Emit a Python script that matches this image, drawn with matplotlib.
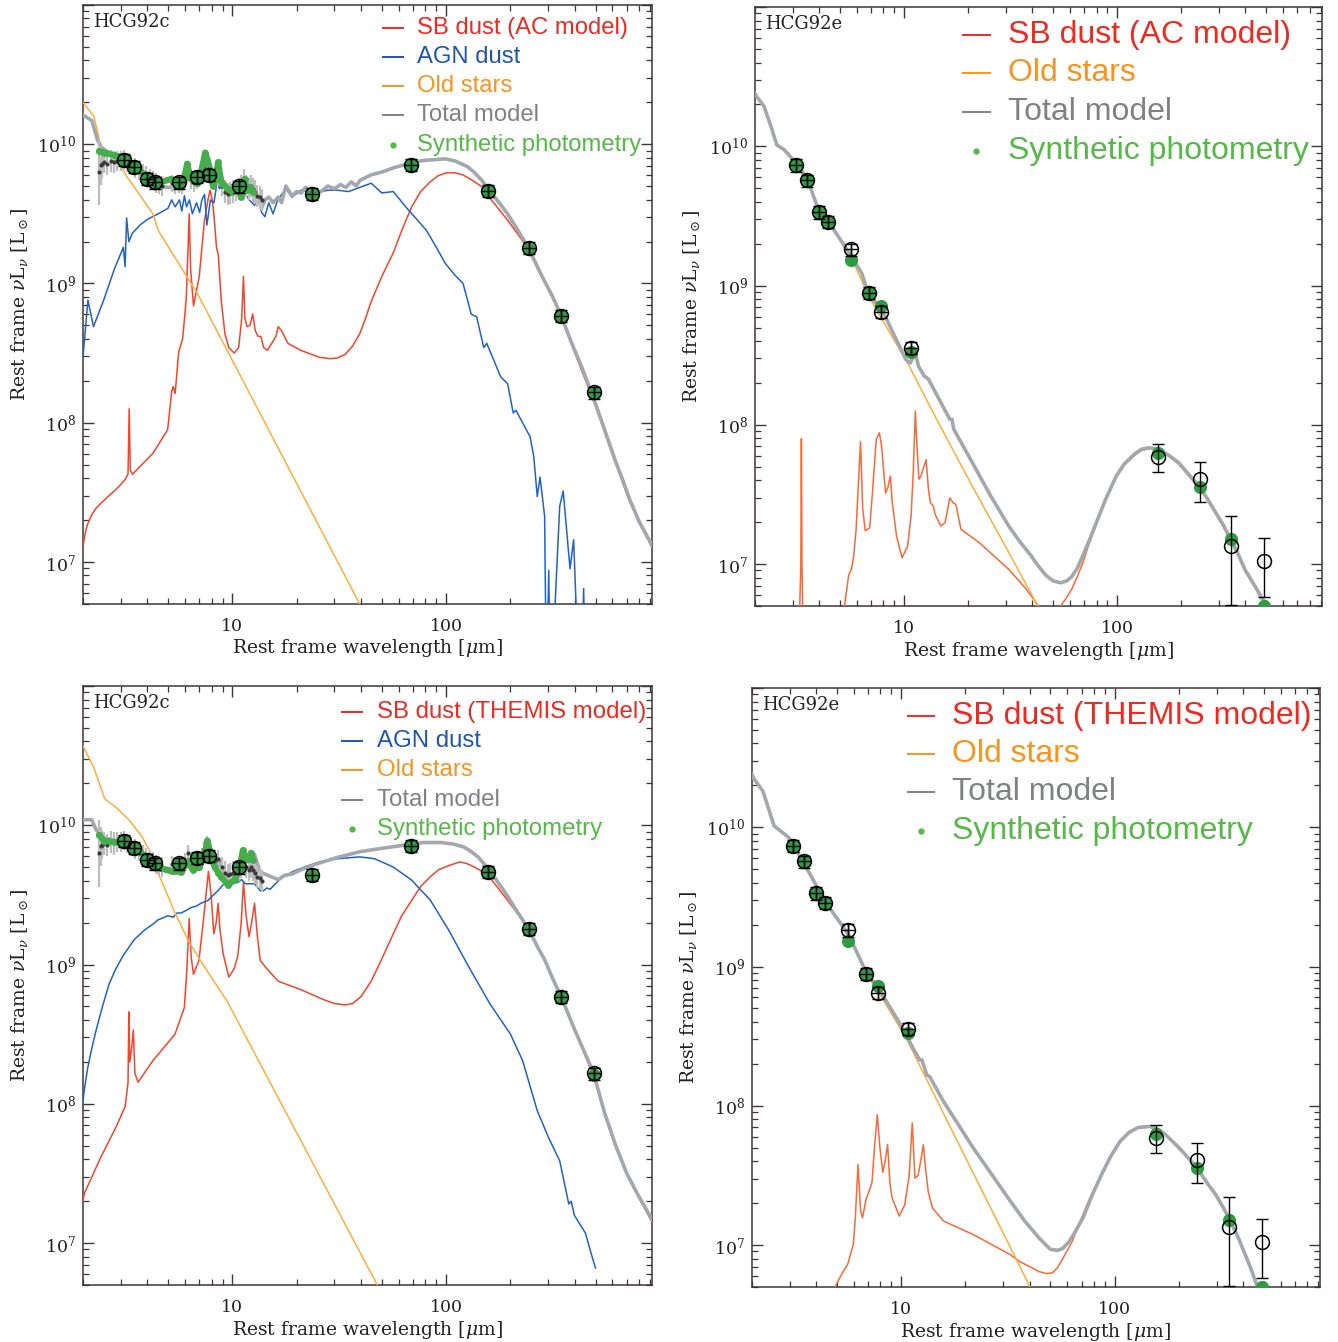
import numpy as np
import matplotlib
matplotlib.use("Agg")
import matplotlib.pyplot as plt
from matplotlib.lines import Line2D
from matplotlib.ticker import LogLocator, NullFormatter

plt.rcParams["font.family"] = ["DejaVu Serif"]
plt.rcParams["mathtext.fontset"] = "dejavuserif"

# ---------------------------------------------------------------------------
# SED components, (wavelength [um], log10 nuLnu [Lsun]) pairs
# ---------------------------------------------------------------------------

# HCG92c, AC dust model
old_ac_92c = [(2.0, 10.30), (2.25, 10.20), (2.43, 9.98), (2.97, 9.86), (3.2, 9.77), (4.25, 9.50),
              (4.5, 9.38), (6.85, 8.93), (40.0, 6.68), (60.0, 6.16)]
agn_ac_92c = [(2.0, 8.47), (2.11, 8.88), (2.24, 8.69), (2.5, 8.88), (2.8, 9.10), (3.09, 9.26), (3.15, 9.12),
              (3.2, 9.47), (3.28, 9.30), (3.4, 9.36), (3.7, 9.42), (4.0, 9.46), (4.5, 9.50), (5.0, 9.54),
              (5.2, 9.60), (5.4, 9.55), (5.66, 9.60), (5.8, 9.52), (5.97, 9.63), (6.1, 9.55), (6.3, 9.60),
              (6.5, 9.50), (6.8, 9.58), (7.03, 9.51), (7.2, 9.60), (7.41, 9.64), (7.6, 9.42), (7.9, 9.60),
              (8.2, 9.58), (8.51, 9.74), (8.7, 9.68), (9.0, 9.70), (9.55, 9.71), (10.1, 9.71), (10.6, 9.70),
              (11.3, 9.66), (12.0, 9.60), (12.7, 9.56), (13.2, 9.62), (13.7, 9.51), (14.2, 9.48), (14.8, 9.58),
              (15.5, 9.50), (16.3, 9.60), (17.8, 9.68), (19.0, 9.62), (21.0, 9.67), (24.5, 9.65), (28.0, 9.67),
              (31.0, 9.67), (35.0, 9.66), (39.5, 9.69), (44.6, 9.72), (50.0, 9.65), (56.6, 9.66), (66.4, 9.53),
              (73.0, 9.46), (81.0, 9.38), (90.0, 9.26), (99.0, 9.145), (110.0, 9.06), (120.0, 9.00),
              (126.0, 8.88), (131.0, 8.78), (139.0, 8.76), (150.0, 8.54), (155.0, 8.57), (180.0, 8.33),
              (194.0, 8.28), (206.0, 8.07), (212.0, 8.09), (247.0, 7.90), (257.0, 7.76), (267.0, 7.47),
              (275.0, 7.61), (289.0, 7.33), (295.0, 6.0), (302.0, 6.94), (308.0, 6.0), (340.0, 7.40),
              (353.0, 7.51), (380.0, 6.95), (395.0, 7.16), (410.0, 6.5), (430.0, 6.2), (440.0, 6.81),
              (450.0, 6.0)]
sb_ac_92c = [(2.0, 7.11), (2.05, 7.21), (2.1, 7.27), (2.2, 7.34), (2.3, 7.385), (2.42, 7.42), (2.6, 7.465),
             (2.85, 7.52), (3.0, 7.555), (3.14, 7.59), (3.25, 7.63), (3.29, 8.10),
             (3.33, 7.66), (3.41, 7.63), (4.25, 7.78), (4.98, 7.95), (5.2, 8.22), (5.28, 8.26), (5.40, 8.21),
             (5.61, 8.51), (5.85, 8.60), (6.08, 8.88), (6.22, 9.30), (6.28, 9.50), (6.38, 9.10), (6.58, 8.84),
             (7.0, 9.05), (7.4, 9.45), (7.73, 9.62), (7.87, 9.67), (8.05, 9.60), (8.19, 9.50), (8.43, 9.26),
             (8.6, 9.20), (8.87, 8.88), (9.23, 8.64), (9.62, 8.54), (10.2, 8.50), (10.7, 8.54), (11.05, 8.74),
             (11.27, 9.05), (11.45, 8.75), (11.7, 8.69), (12.1, 8.70), (12.45, 8.78), (12.8, 8.66),
             (13.2, 8.62), (13.6, 8.62), (14.0, 8.54), (14.6, 8.52), (16.0, 8.62), (16.4, 8.69), (17.0, 8.66),
             (18.2, 8.57), (20.9, 8.52), (25.5, 8.47), (28.7, 8.46), (31.0, 8.465), (33.7, 8.49),
             (36.5, 8.55), (39.5, 8.64), (42.0, 8.75), (44.6, 8.87), (50.0, 9.05), (56.6, 9.22), (62.0, 9.38),
             (69.0, 9.55), (76.0, 9.66), (84.3, 9.73), (92.0, 9.775), (100.7, 9.795), (110.0, 9.795),
             (120.5, 9.778), (133.0, 9.74), (147.0, 9.694), (159.0, 9.62), (175.0, 9.54), (194.0, 9.455),
             (215.0, 9.36), (242.0, 9.25), (275.0, 9.07), (314.0, 8.90), (343.0, 8.77), (398.0, 8.51),
             (450.0, 8.30), (500.0, 8.12), (617.0, 7.72), (724.0, 7.43), (920.0, 7.10)]
total_ac_92c = [(2.0, 10.21), (2.2, 10.17), (2.34, 10.03), (2.43, 9.98), (2.8, 9.91), (3.1, 9.87), (3.5, 9.82),
                (4.0, 9.75), (4.5, 9.70), (5.0, 9.69), (5.6, 9.70), (6.2, 9.80), (6.6, 9.74), (7.7, 9.84),
                (8.2, 9.77), (8.6, 9.77), (9.5, 9.70), (10.6, 9.68), (11.3, 9.72), (12.0, 9.67), (12.45, 9.64),
                (12.7, 9.58), (13.2, 9.62), (13.7, 9.54), (14.2, 9.60), (14.8, 9.62), (15.5, 9.58),
                (16.4, 9.62), (17.0, 9.58), (17.8, 9.70), (19.0, 9.63), (20.0, 9.66), (21.0, 9.65),
                (22.0, 9.69), (23.0, 9.64), (24.5, 9.67), (26.0, 9.66), (28.0, 9.70), (30.0, 9.68),
                (32.0, 9.71), (34.0, 9.69), (36.0, 9.73), (38.0, 9.70), (39.5, 9.74), (44.6, 9.78),
                (50.0, 9.80), (56.6, 9.83), (63.0, 9.85), (69.0, 9.87), (80.0, 9.885), (90.0, 9.89),
                (99.0, 9.895), (110.0, 9.88), (125.6, 9.84), (135.0, 9.80), (147.0, 9.74), (159.0, 9.67),
                (175.0, 9.59), (194.0, 9.50), (215.0, 9.39), (242.0, 9.26), (275.0, 9.08), (314.0, 8.91),
                (343.0, 8.78), (385.0, 8.58), (431.0, 8.40), (506.0, 8.115), (560.0, 7.92), (617.0, 7.733),
                (670.0, 7.59), (724.0, 7.446), (800.0, 7.29), (920.0, 7.12)]

# HCG92e, AC dust model
old_ac_92e = [(2.0, 10.38), (2.2, 10.29), (2.38, 10.14), (2.53, 10.01), (2.74, 9.975), (2.97, 9.915),
              (3.2, 9.86), (3.55, 9.75), (4.0, 9.53), (4.42, 9.46), (5.66, 9.20), (6.85, 8.92), (10.6, 8.42),
              (14.0, 8.06), (20.9, 7.56), (31.1, 7.08), (40.4, 6.76), (60.0, 6.25)]
sb_ac_92e = [(3.1, 5.5), (3.28, 7.0), (3.30, 7.9), (3.32, 7.0), (3.45, 5.5), (5.05, 5.5), (5.28, 6.72),
             (5.5, 6.92), (5.66, 6.96), (5.8, 7.05), (5.96, 7.25), (6.12, 7.6), (6.25, 7.88), (6.4, 7.40),
             (6.58, 7.24), (6.9, 7.26), (7.1, 7.50), (7.41, 7.895), (7.66, 7.943), (7.85, 7.85), (8.19, 7.51),
             (8.4, 7.55), (8.63, 7.632), (8.8, 7.45), (9.23, 7.20), (9.8, 7.045), (10.4, 7.13), (10.8, 7.35),
             (11.05, 7.66), (11.3, 8.10), (11.5, 7.85), (11.75, 7.61), (12.0, 7.63), (12.4, 7.70),
             (12.7, 7.75), (13.0, 7.55), (13.3, 7.44), (13.7, 7.42), (14.0, 7.356), (14.9, 7.273),
             (15.6, 7.30), (16.4, 7.476), (17.0, 7.44), (17.5, 7.43), (18.5, 7.25), (22.6, 7.153),
             (31.1, 6.96), (37.0, 6.83), (42.8, 6.70), (48.0, 6.55), (54.3, 6.70), (58.0, 6.76),
             (61.2, 6.82), (65.0, 6.91), (69.0, 7.01), (74.0, 7.15), (80.9, 7.31), (88.0, 7.46),
             (98.8, 7.625), (108.0, 7.71), (120.5, 7.78), (130.0, 7.815), (141.0, 7.83), (150.0, 7.825),
             (159.0, 7.815), (175.0, 7.775), (194.0, 7.72), (215.0, 7.64), (242.0, 7.55), (265.0, 7.46),
             (290.0, 7.36), (315.0, 7.27), (340.0, 7.17), (370.0, 7.06), (398.0, 6.95), (440.0, 6.84),
             (476.0, 6.75), (600.0, 6.44)]
total_ac_92e = [(2.0, 10.38), (2.03, 10.36), (2.2, 10.29), (2.38, 10.14), (2.53, 10.01), (2.74, 9.976),
                (2.97, 9.916), (3.2, 9.86), (3.55, 9.75), (4.0, 9.53), (4.42, 9.46), (5.66, 9.21), (6.33, 9.09),
                (6.85, 8.93), (7.87, 8.83), (8.7, 8.69), (10.2, 8.47), (10.7, 8.445), (11.3, 8.517),
                (11.7, 8.42), (12.45, 8.35), (13.0, 8.33), (16.4, 8.04), (16.8, 8.04), (17.1, 7.97),
                (20.9, 7.73), (25.5, 7.49), (31.1, 7.27), (35.0, 7.16), (39.5, 7.06), (42.0, 7.00),
                (46.3, 6.92), (50.0, 6.88), (54.3, 6.866), (58.0, 6.88), (61.2, 6.91), (65.0, 6.97),
                (69.0, 7.06), (74.0, 7.17), (80.9, 7.32), (88.0, 7.46), (98.8, 7.63), (108.0, 7.72),
                (120.5, 7.79), (130.0, 7.825), (141.0, 7.835), (150.0, 7.83), (159.0, 7.82), (175.0, 7.78),
                (194.0, 7.73), (215.0, 7.65), (242.0, 7.56), (265.0, 7.47), (290.0, 7.37), (315.0, 7.28),
                (340.0, 7.18), (370.0, 7.07), (398.0, 6.96), (440.0, 6.85), (476.0, 6.76), (506.0, 6.70),
                (600.0, 6.45)]

# HCG92c, THEMIS dust model
old_th_92c = [(2.0, 10.57), (2.03, 10.55), (2.24, 10.42), (2.53, 10.19), (2.85, 10.13), (3.28, 10.04),
              (3.77, 9.92), (4.16, 9.80), (4.42, 9.68), (4.79, 9.56), (5.39, 9.37), (6.33, 9.15),
              (7.72, 8.94), (9.42, 8.74), (46.3, 6.735), (60.0, 6.40)]
agn_th_92c = [(2.0, 8.02), (2.03, 8.10), (2.1, 8.25), (2.18, 8.37), (2.28, 8.50), (2.38, 8.61), (2.48, 8.71),
              (2.65, 8.86), (2.85, 8.97), (3.1, 9.07), (3.48, 9.18), (3.9, 9.25), (4.25, 9.29),
              (4.48, 9.32), (5.0, 9.35), (5.3, 9.34), (5.5, 9.37), (5.76, 9.37), (6.1, 9.39),
              (6.42, 9.41), (6.8, 9.42), (7.13, 9.44), (7.69, 9.46), (8.03, 9.49), (8.57, 9.53), (8.9, 9.56),
              (9.42, 9.60), (9.55, 9.58), (10.2, 9.62), (10.6, 9.59), (11.05, 9.61), (11.5, 9.58),
              (12.45, 9.58), (12.7, 9.58), (13.5, 9.53), (14.0, 9.53), (14.5, 9.55), (15.0, 9.54),
              (16.4, 9.60), (17.0, 9.62), (19.3, 9.67), (22.6, 9.71), (26.0, 9.74), (31.1, 9.76),
              (39.5, 9.773), (46.3, 9.76), (56.6, 9.70), (69.0, 9.606), (84.3, 9.463), (102.8, 9.248),
              (128.0, 8.98), (160.0, 8.72), (200.0, 8.50), (228.0, 8.31), (267.0, 7.95), (301.0, 7.76),
              (340.0, 7.59), (375.0, 7.28), (385.0, 7.30), (398.0, 7.20), (449.0, 7.07), (476.0, 6.93),
              (500.0, 6.82)]
sb_th_92c = [(2.0, 7.30), (2.03, 7.356), (2.43, 7.62), (2.85, 7.83), (3.15, 7.98), (3.25, 8.15), (3.28, 8.66),
             (3.31, 8.30), (3.38, 8.40), (3.44, 8.53), (3.5, 8.22), (3.62, 8.155), (4.25, 8.31), (5.39, 8.50),
             (5.96, 8.69), (6.12, 8.95), (6.28, 9.33), (6.42, 9.05), (6.58, 8.93), (6.98, 9.03), (7.3, 9.30),
             (7.73, 9.67), (7.95, 9.50), (8.19, 9.22), (8.4, 9.30), (8.58, 9.44), (8.75, 9.25), (9.05, 9.08),
             (9.62, 8.91), (10.2, 8.97), (10.6, 9.06), (11.0, 9.30), (11.27, 9.59), (11.6, 9.35),
             (11.97, 9.20), (12.3, 9.30), (12.7, 9.44), (13.1, 9.20), (13.5, 9.03), (14.5, 8.97),
             (16.4, 8.88), (20.9, 8.82), (26.5, 8.75), (30.0, 8.72), (33.7, 8.71), (36.5, 8.72),
             (40.0, 8.77), (44.6, 8.88), (50.0, 9.04), (56.6, 9.22), (62.0, 9.35), (69.0, 9.46), (76.0, 9.56),
             (84.3, 9.63), (92.0, 9.68), (102.8, 9.71), (115.8, 9.737), (125.0, 9.725), (135.7, 9.70),
             (147.0, 9.67), (159.0, 9.63), (175.0, 9.55), (194.0, 9.46), (215.0, 9.37), (242.0, 9.27),
             (265.0, 9.15), (290.0, 9.03), (315.0, 8.91), (340.0, 8.79), (400.0, 8.53), (486.0, 8.21),
             (617.0, 7.70), (750.0, 7.40), (920.0, 7.15)]
total_th_92c = [(2.0, 10.04), (2.2, 10.04), (2.3, 9.97), (2.5, 9.91), (2.85, 9.89), (3.2, 9.86), (3.5, 9.82),
                (4.0, 9.75), (4.42, 9.72), (4.8, 9.69), (5.3, 9.69), (5.76, 9.68), (6.2, 9.76), (6.5, 9.70),
                (7.0, 9.72), (7.7, 9.87), (8.2, 9.71), (8.6, 9.76), (9.0, 9.68), (9.5, 9.64), (10.2, 9.65),
                (10.8, 9.70), (11.3, 9.82), (11.8, 9.76), (12.2, 9.75), (12.7, 9.79), (13.5, 9.66),
                (14.2, 9.65), (15.2, 9.63), (16.4, 9.61), (17.5, 9.64), (19.0, 9.65), (20.9, 9.68),
                (24.5, 9.72), (31.1, 9.77), (39.5, 9.81), (50.2, 9.835), (63.7, 9.857), (77.8, 9.876),
                (94.9, 9.876), (108.0, 9.865), (120.5, 9.845), (130.0, 9.815), (141.0, 9.773), (159.0, 9.68),
                (175.0, 9.59), (194.0, 9.49), (215.0, 9.38), (242.0, 9.26), (265.0, 9.14), (290.0, 9.03),
                (315.0, 8.90), (343.0, 8.78), (400.0, 8.53), (490.0, 8.22), (550.0, 7.94), (617.0, 7.714),
                (700.0, 7.50), (800.0, 7.33), (920.0, 7.17)]

# HCG92e, THEMIS dust model
old_th_92e = [(2.0, 10.38), (2.25, 10.26), (2.54, 10.01), (2.98, 9.925), (3.2, 9.85), (4.43, 9.46),
              (5.67, 9.22), (6.85, 8.95), (7.88, 8.81), (10.6, 8.48), (14.6, 8.05), (21.7, 7.52),
              (32.3, 6.99), (40.1, 6.70), (60.0, 6.15)]
sb_th_92e = [(4.5, 6.0), (4.9, 6.70), (5.3, 6.80), (5.62, 6.862), (5.97, 7.005), (6.1, 7.2), (6.28, 7.578),
             (6.45, 7.25), (6.59, 7.196), (6.85, 7.33), (7.08, 7.387), (7.3, 7.45), (7.5, 7.70), (7.73, 7.936),
             (7.95, 7.70), (8.2, 7.523), (8.4, 7.60), (8.64, 7.721), (8.85, 7.45), (9.06, 7.339), (9.8, 7.208),
             (10.4, 7.29), (10.9, 7.50), (11.27, 7.876), (11.6, 7.48), (12.0, 7.50), (12.4, 7.62),
             (12.7, 7.721), (13.0, 7.55), (13.4, 7.38), (14.0, 7.267), (15.8, 7.172), (21.7, 7.076),
             (32.3, 6.933), (36.0, 6.88), (40.9, 6.838), (44.0, 6.81), (48.0, 6.795), (51.0, 6.80),
             (54.0, 6.838), (58.0, 6.92), (63.4, 7.029), (68.0, 7.15), (74.3, 7.291), (80.0, 7.40),
             (87.0, 7.50), (96.0, 7.63), (106.0, 7.74), (117.0, 7.805), (129.0, 7.84), (146.0, 7.848),
             (160.0, 7.825), (171.0, 7.80), (185.0, 7.745), (200.0, 7.69), (220.0, 7.625), (244.0, 7.545),
             (270.0, 7.445), (298.0, 7.355), (325.0, 7.255), (349.0, 7.165), (380.0, 7.045), (409.0, 6.925),
             (435.0, 6.825), (461.0, 6.71), (500.0, 6.60)]
total_th_92e = [(2.0, 10.38), (2.04, 10.35), (2.25, 10.26), (2.54, 10.01), (2.98, 9.926), (3.2, 9.85),
                (4.43, 9.46), (5.67, 9.23), (6.85, 8.96), (7.88, 8.84), (8.53, 8.75), (10.6, 8.51),
                (10.96, 8.46), (11.49, 8.40), (11.8, 8.37), (12.2, 8.33), (12.5, 8.33), (13.2, 8.22),
                (13.6, 8.21), (15.8, 8.03), (21.7, 7.70), (32.3, 7.32), (38.0, 7.17), (44.3, 7.05),
                (49.9, 6.97), (54.0, 6.962), (57.0, 6.975), (60.8, 7.02), (65.0, 7.09), (71.3, 7.20),
                (78.0, 7.35), (87.0, 7.51), (96.0, 7.64), (106.0, 7.745), (117.0, 7.81), (129.0, 7.845),
                (146.0, 7.852), (160.0, 7.83), (171.0, 7.80), (185.0, 7.75), (200.0, 7.70), (220.0, 7.63),
                (244.0, 7.55), (270.0, 7.45), (298.0, 7.36), (325.0, 7.26), (349.0, 7.17), (380.0, 7.05),
                (409.0, 6.93), (435.0, 6.83), (461.0, 6.72), (500.0, 6.60)]

# ---------------------------------------------------------------------------
# Observations
# ---------------------------------------------------------------------------
phot_lam_92c = [3.1, 3.48, 4.0, 4.36, 5.65, 6.8, 7.8, 10.7, 23.5, 68.5, 157.0, 245.0, 345.0, 492.0]
phot_logl_92c = [9.888, 9.836, 9.752, 9.726, 9.726, 9.768, 9.782, 9.697, 9.646, 9.853, 9.664, 9.257, 8.77, 8.218]
synth_logl_92c = [9.885, 9.835, 9.745, 9.72, 9.72, 9.765, 9.78, 9.69, 9.635, 9.85, 9.665, 9.25, 8.765, 8.21]
phot_relerr_92c = [0.10, 0.10, 0.10, 0.10, 0.10, 0.10, 0.10, 0.10, 0.10, 0.10, 0.10, 0.10, 0.10, 0.10]

phot_lam_92e = [3.13, 3.52, 4.0, 4.4, 5.66, 6.85, 7.8, 10.75, 156.0, 244.0, 342.0, 490.0]
phot_logl_92e = [9.865, 9.756, 9.527, 9.457, 9.261, 8.95, 8.812, 8.553, 7.772, 7.612, 7.132, 7.025]
synth_logl_92e = [9.865, 9.756, 9.527, 9.457, 9.185, 8.95, 8.857, 8.52, 7.80, 7.555, 7.18, 6.70]
phot_relerr_92e = [0.10, 0.10, 0.10, 0.10, 0.10, 0.10, 0.10, 0.10, 0.228, 0.318, 0.627, 0.453]

# IRS spectrum of HCG92c (lam, log L, error in dex)
spec_92c = [(2.38, 9.80, 0.24), (2.42, 9.85, 0.14), (2.46, 9.86, 0.10), (2.5, 9.87, 0.08), (2.6, 9.86, 0.08),
            (2.7, 9.88, 0.08), (2.8, 9.87, 0.08), (2.9, 9.88, 0.07), (3.0, 9.88, 0.07), (3.1, 9.89, 0.07),
            (3.2, 9.87, 0.07), (3.35, 9.85, 0.07), (3.5, 9.83, 0.07), (3.65, 9.81, 0.07), (3.8, 9.79, 0.07),
            (3.95, 9.77, 0.07), (4.1, 9.75, 0.07), (4.25, 9.74, 0.07), (4.4, 9.72, 0.07), (4.55, 9.71, 0.07),
            (4.7, 9.70, 0.07), (5.2, 9.72, 0.06), (5.4, 9.70, 0.06), (5.6, 9.71, 0.06), (5.8, 9.70, 0.06),
            (6.0, 9.74, 0.06), (6.2, 9.80, 0.06), (6.4, 9.74, 0.06), (6.6, 9.72, 0.06), (6.8, 9.74, 0.06),
            (7.0, 9.75, 0.06), (7.2, 9.78, 0.06), (7.4, 9.83, 0.06), (7.6, 9.86, 0.06), (7.8, 9.82, 0.06),
            (8.0, 9.78, 0.06), (8.3, 9.74, 0.06), (8.6, 9.76, 0.06), (8.9, 9.70, 0.07), (9.2, 9.66, 0.08),
            (9.5, 9.64, 0.08), (9.8, 9.65, 0.08), (10.1, 9.66, 0.08), (10.4, 9.67, 0.08), (10.7, 9.68, 0.08),
            (11.0, 9.70, 0.08), (11.3, 9.74, 0.08), (11.6, 9.70, 0.08), (11.9, 9.68, 0.08), (12.2, 9.70, 0.08),
            (12.5, 9.68, 0.08), (12.8, 9.66, 0.08), (13.1, 9.63, 0.08), (13.4, 9.62, 0.08), (13.7, 9.60, 0.08)]

# synthetic photometry along the spectrum
synth_spec_ac_92c = [(2.38, 9.95), (2.51, 9.94), (2.8, 9.92), (3.12, 9.90), (3.47, 9.845), (3.87, 9.785),
                     (4.24, 9.75), (4.56, 9.725), (5.18, 9.75), (5.56, 9.71), (5.9, 9.73), (6.15, 9.86),
                     (6.35, 9.76), (6.53, 9.75), (6.8, 9.72), (7.15, 9.80), (7.46, 9.94), (7.64, 9.89),
                     (7.9, 9.80), (8.11, 9.70), (8.35, 9.75), (8.57, 9.87), (8.9, 9.72), (9.55, 9.68),
                     (10.0, 9.66), (10.6, 9.68), (11.0, 9.62), (11.4, 9.75), (11.7, 9.67), (12.06, 9.69),
                     (12.45, 9.66)]
synth_spec_th_92c = [(2.38, 9.93), (2.51, 9.89), (2.8, 9.88), (3.12, 9.88), (3.47, 9.845), (3.87, 9.785),
                     (4.24, 9.725), (4.64, 9.69), (5.2, 9.67), (5.76, 9.665), (6.19, 9.74), (6.53, 9.68),
                     (7.0, 9.70), (7.45, 9.80), (7.64, 9.89), (7.9, 9.80), (8.26, 9.70), (8.6, 9.66),
                     (8.88, 9.63), (9.55, 9.57), (10.25, 9.61), (10.83, 9.70), (11.2, 9.82), (11.5, 9.75),
                     (11.85, 9.76), (12.2, 9.80), (12.5, 9.75)]

# colours
C_SB_LEFT = "#f2452d"
C_SB_RIGHT = "#f56a3a"
C_AGN = "#2262c4"
C_OLD = "#fbae3e"
C_TOTAL = "#a4a8ad"
C_SYN = "#45ad4c"
C_PHOT = "#2f9c44"
C_FRAME = "#3e3636"

TXT_RED = "#ec2a22"
TXT_BLUE = "#1f56ad"
TXT_ORANGE = "#f7941e"
TXT_GRAY = "#7f8185"
TXT_GREEN = "#55b847"


def _xy(pairs):
    a = np.asarray(pairs, dtype=float)
    return a[:, 0], 10.0 ** a[:, 1]


def _style(ax):
    ax.set_xscale("log")
    ax.set_yscale("log")
    ax.set_xticks([10, 100])
    ax.set_xticklabels(["10", "100"])
    ax.xaxis.set_minor_locator(LogLocator(base=10, subs=np.arange(2, 10)))
    ax.xaxis.set_minor_formatter(NullFormatter())
    ax.set_yticks([1e7, 1e8, 1e9, 1e10, 1e11])
    ax.set_yticklabels(["$10^{7}$", "$10^{8}$", "$10^{9}$", "$10^{10}$", ""])
    ax.yaxis.set_minor_locator(LogLocator(base=10, subs=np.arange(2, 10)))
    ax.yaxis.set_minor_formatter(NullFormatter())
    ax.set_xlim(2.0, 915)
    ax.set_ylim(5e6, 1e11)
    ax.tick_params(which="both", direction="in", top=True, right=True,
                   color=C_FRAME, labelsize=12.5, labelcolor="#222222")
    ax.tick_params(which="major", length=8, width=1.0)
    ax.tick_params(which="minor", length=4, width=0.9)
    ax.tick_params(axis="x", pad=10)
    ax.tick_params(axis="y", pad=5)
    for sp in ax.spines.values():
        sp.set_color(C_FRAME)
        sp.set_linewidth(1.1)
    ax.set_xlabel("Rest frame wavelength [$\\mu$m]", fontsize=13.5, color="#222222")
    ax.set_ylabel("Rest frame $\\nu$L$_\\nu$ [L$_\\odot$]", fontsize=13.5, color="#222222")
    ax.xaxis.set_label_coords(0.5, -0.056)
    ax.yaxis.set_label_coords(-0.093, 0.5)


def _legend(ax, entries, x0, x1, xt, ys, fs):
    for (label, color, kind), y in zip(entries, ys):
        if kind == "line":
            ax.add_line(Line2D([x0, x1], [y, y], transform=ax.transAxes, color=color,
                               lw=1.4, clip_on=False))
        else:
            ax.add_line(Line2D([(x0 + x1) / 2], [y], transform=ax.transAxes, color=color,
                               marker="o", ms=3.5, lw=0, clip_on=False))
        ax.text(xt, y, label, transform=ax.transAxes, color=color, fontsize=fs,
                family=["Liberation Sans", "DejaVu Sans"], va="center", ha="left")


def _photometry(ax, lam, logl, synth, relerr, n_cross):
    lam = np.asarray(lam)
    lum = 10.0 ** np.asarray(logl)
    err = lum * np.asarray(relerr)
    ax.plot(lam, 10.0 ** np.asarray(synth), "o", ms=9.5, color=C_PHOT, mec="none", zorder=7)
    ax.errorbar(lam, lum, yerr=err, fmt="none", ecolor="k", elinewidth=1.0,
                capsize=4.5, capthick=1.0, zorder=8)
    ax.plot(lam, lum, "o", ms=10, mfc="none", mec="k", mew=1.1, zorder=9)
    ax.plot(lam[:n_cross], lum[:n_cross], "+", ms=10, mec="k", mew=1.0, zorder=9)


def _spectrum(ax, spec, synth_spec):
    a = np.asarray(spec, dtype=float)
    lam, lum, dex = a[:, 0], 10.0 ** a[:, 1], a[:, 2]
    lo = lum - lum * 10.0 ** (-dex)
    hi = lum * 10.0 ** dex - lum
    ax.errorbar(lam, lum, yerr=[lo, hi], fmt="o", ms=2.0, color="#3a3a3a",
                ecolor="#bdbdbd", elinewidth=1.6, capsize=0, zorder=5)
    x, y = _xy(synth_spec)
    ax.plot(x, y, "-", color=C_SYN, lw=4.5, solid_capstyle="round", zorder=6)
    ax.plot(x, y, "o", color=C_SYN, ms=5, mec="none", zorder=6)


def draw_panel(ax, name, total, old, sb, sb_color, agn=None):
    _style(ax)
    for pairs, color in ((sb, sb_color), (agn, C_AGN), (old, C_OLD)):
        if pairs is None:
            continue
        x, y = _xy(pairs)
        ax.plot(x, y, color=color, lw=1.1, zorder=3)
    x, y = _xy(total)
    ax.plot(x, y, color=C_TOTAL, lw=2.6, zorder=4)
    ax.text(0.017, 0.986, name, transform=ax.transAxes, fontsize=13,
            va="top", ha="left", color="#222222")


fig = plt.figure(figsize=(13.38, 13.42), dpi=100)
ax_tl = fig.add_axes([0.062, 0.550, 0.425, 0.4463])
ax_tr = fig.add_axes([0.5643, 0.5484, 0.4238, 0.4463])
ax_bl = fig.add_axes([0.062, 0.0425, 0.425, 0.4463])
ax_br = fig.add_axes([0.562, 0.0410, 0.4245, 0.4463])

# HCG92c, AC model
draw_panel(ax_tl, "HCG92c", total_ac_92c, old_ac_92c, sb_ac_92c, C_SB_LEFT, agn=agn_ac_92c)
_spectrum(ax_tl, spec_92c, synth_spec_ac_92c)
_photometry(ax_tl, phot_lam_92c, phot_logl_92c, synth_logl_92c, phot_relerr_92c, 14)
_legend(ax_tl, [("SB dust (AC model)", TXT_RED, "line"), ("AGN dust", TXT_BLUE, "line"),
                ("Old stars", TXT_ORANGE, "line"), ("Total model", TXT_GRAY, "line"),
                ("Synthetic photometry", TXT_GREEN, "dot")],
        0.527, 0.562, 0.587, [0.962, 0.913, 0.864, 0.816, 0.767], 17.2)

# HCG92e, AC model
draw_panel(ax_tr, "HCG92e", total_ac_92e, old_ac_92e, sb_ac_92e, C_SB_RIGHT)
_photometry(ax_tr, phot_lam_92e, phot_logl_92e, synth_logl_92e, phot_relerr_92e, 8)
_legend(ax_tr, [("SB dust (AC model)", TXT_RED, "line"), ("Old stars", TXT_ORANGE, "line"),
                ("Total model", TXT_GRAY, "line"), ("Synthetic photometry", TXT_GREEN, "dot")],
        0.367, 0.414, 0.446, [0.953, 0.890, 0.825, 0.760], 23)

# HCG92c, THEMIS model
draw_panel(ax_bl, "HCG92c", total_th_92c, old_th_92c, sb_th_92c, C_SB_LEFT, agn=agn_th_92c)
_spectrum(ax_bl, spec_92c, synth_spec_th_92c)
_photometry(ax_bl, phot_lam_92c, phot_logl_92c, synth_logl_92c, phot_relerr_92c, 14)
_legend(ax_bl, [("SB dust (THEMIS model)", TXT_RED, "line"), ("AGN dust", TXT_BLUE, "line"),
                ("Old stars", TXT_ORANGE, "line"), ("Total model", TXT_GRAY, "line"),
                ("Synthetic photometry", TXT_GREEN, "dot")],
        0.455, 0.491, 0.517, [0.957, 0.908, 0.860, 0.810, 0.761], 17.3)

# HCG92e, THEMIS model
draw_panel(ax_br, "HCG92e", total_th_92e, old_th_92e, sb_th_92e, C_SB_RIGHT)
_photometry(ax_br, phot_lam_92e, phot_logl_92e, synth_logl_92e, phot_relerr_92e, 8)
_legend(ax_br, [("SB dust (THEMIS model)", TXT_RED, "line"), ("Old stars", TXT_ORANGE, "line"),
                ("Total model", TXT_GRAY, "line"), ("Synthetic photometry", TXT_GREEN, "dot")],
        0.275, 0.321, 0.353, [0.954, 0.890, 0.826, 0.761], 23)

for ax in (ax_tl, ax_tr, ax_bl, ax_br):
    ax.set_xlim(2.0, 915)
    ax.set_ylim(5e6, 1e11)

fig.savefig("out.png", dpi=100)
